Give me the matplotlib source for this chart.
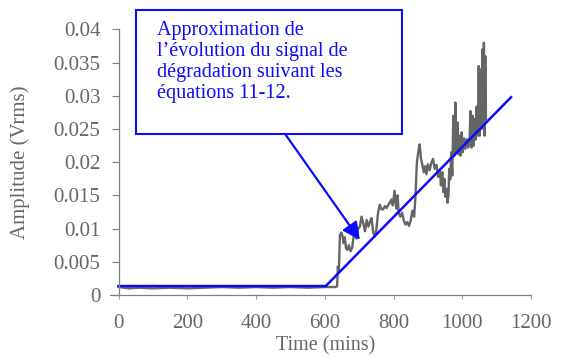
import matplotlib.pyplot as plt
from matplotlib.patches import Rectangle

# measured degradation signal (time in mins, amplitude in Vrms)
signal_t = [0, 30, 60, 100, 150, 200, 250, 300, 350, 400, 450, 500, 550, 600, 630,
            636, 638, 641, 644, 648, 652, 655, 658, 662, 666, 670, 675, 680, 684, 688,
            692, 697, 702, 707, 712, 717, 722, 727, 732, 736, 741, 746, 750, 755, 760,
            765, 770, 775, 780, 785, 789, 794, 798, 803, 808, 812, 815, 820, 825, 830,
            835, 840, 845, 850, 855, 860, 864, 868, 872, 876, 880, 884, 888, 892, 896,
            900, 905, 910, 915, 920, 925, 930, 935, 938, 942, 945, 948, 951, 954, 957,
            960, 962, 965, 968, 971, 974, 977, 980, 983, 986, 989, 992, 995, 998, 1001,
            1005, 1009, 1013, 1017, 1021, 1024, 1027, 1030, 1033, 1036, 1039, 1042, 1045,
            1048, 1051, 1054, 1056, 1059, 1061, 1063, 1065, 1067, 1069]
signal_v = [0.0012, 0.0010, 0.0011, 0.0010, 0.0011, 0.0010, 0.0011, 0.0012, 0.0011, 0.0012,
            0.0011, 0.0012, 0.0011, 0.0012, 0.0012,
            0.0013, 0.0043, 0.0035, 0.0090, 0.0094, 0.0088, 0.0078, 0.0087, 0.0070, 0.0068,
            0.0075, 0.0066, 0.0072, 0.0088, 0.0094, 0.0085, 0.0100, 0.0103, 0.0118, 0.0108,
            0.0096, 0.0113, 0.0103, 0.0111, 0.0116, 0.0094, 0.0088, 0.0098, 0.0124, 0.0136,
            0.0129, 0.0129, 0.0134, 0.0131, 0.0136, 0.0139, 0.0144, 0.0135, 0.0157, 0.0130,
            0.0150, 0.0124, 0.0118, 0.0124, 0.0112, 0.0106, 0.0110, 0.0104, 0.0112, 0.0127,
            0.0118, 0.0150, 0.0200, 0.0215, 0.0227, 0.0205, 0.0196, 0.0185, 0.0194, 0.0182,
            0.0197, 0.0188, 0.0199, 0.0205, 0.0190, 0.0196, 0.0178, 0.0187, 0.0165, 0.0185,
            0.0155, 0.0175, 0.0148, 0.0160, 0.0139, 0.0150, 0.0190, 0.0174, 0.0215, 0.0180,
            0.0270, 0.0210, 0.0290, 0.0215, 0.0260, 0.0212, 0.0240, 0.0210, 0.0245, 0.0215,
            0.0236, 0.0220, 0.0235, 0.0222, 0.0230, 0.0277, 0.0222, 0.0270, 0.0225, 0.0265,
            0.0234, 0.0284, 0.0240, 0.0345, 0.0240, 0.0340, 0.0250, 0.0370, 0.0260, 0.0380,
            0.0240, 0.0360, 0.0265]

# piecewise approximation (eq. 11-12)
approx_t = [0, 603, 1142]
approx_v = [0.00135, 0.00135, 0.0298]

x_ticks = [0, 200, 400, 600, 800, 1000, 1200]
y_ticks = [0, 0.005, 0.01, 0.015, 0.02, 0.025, 0.03, 0.035, 0.04]
y_ticklabels = ['0', '0.005', '0.01', '0.015', '0.02', '0.025', '0.03', '0.035', '0.04']

note = "Approximation de\nl\u2019\u00e9volution du signal de\nd\u00e9gradation suivant les\n\u00e9quations 11-12."

grey = '#666666'
blue = '#0a0aff'
plt.rcParams['font.family'] = ['Liberation Serif', 'DejaVu Serif']

fig = plt.figure(figsize=(5.61, 3.58), dpi=100)
ax = fig.add_axes([0.196, 0.176, 0.7505, 0.7416])

ax.plot(signal_t, signal_v, color='#4a4a4a', lw=1.7, alpha=0.85)
ax.plot(approx_t, approx_v, color=blue, lw=1.8)

ax.set_xlim(-25, 1200)
ax.set_ylim(0, 0.04)
ax.spines['left'].set_position(('data', 0))
for s in ['top', 'right']:
    ax.spines[s].set_visible(False)
for s in ['left', 'bottom']:
    ax.spines[s].set_color('#808080')
    ax.spines[s].set_linewidth(0.9)

ax.set_xticks(x_ticks)
ax.set_yticks(y_ticks)
ax.set_yticklabels(y_ticklabels)
ax.tick_params(axis='y', length=5, pad=8, colors='#808080', labelcolor=grey, labelsize=15)
ax.tick_params(axis='x', length=3, pad=11, colors='#a0a0a0', labelcolor=grey, labelsize=15)

ax.set_xlabel('Time (mins)', fontsize=14.5, color=grey)
ax.set_ylabel('Amplitude (Vrms)', fontsize=15, color=grey)
ax.xaxis.set_label_coords(0.513, -0.155)
ax.yaxis.set_label_coords(-0.19, 0.5)

# annotation box + arrow
fig.add_artist(Rectangle((0.2424, 0.626), 0.4742, 0.346, transform=fig.transFigure,
                         fill=True, facecolor='white', edgecolor=blue, lw=1.5, zorder=5))
fig.text(0.28, 0.94, note, color=blue, fontsize=14.5, va='top', ha='left',
         linespacing=1.12, zorder=6)
ax.annotate('', xy=(702, 0.0083), xytext=(0.5045, 0.634), textcoords='figure fraction',
            arrowprops=dict(arrowstyle='-|>,head_length=0.7,head_width=0.35',
                            mutation_scale=15, color=blue, lw=1.6, shrinkA=0, shrinkB=0))

fig.savefig('out.png', dpi=100)
